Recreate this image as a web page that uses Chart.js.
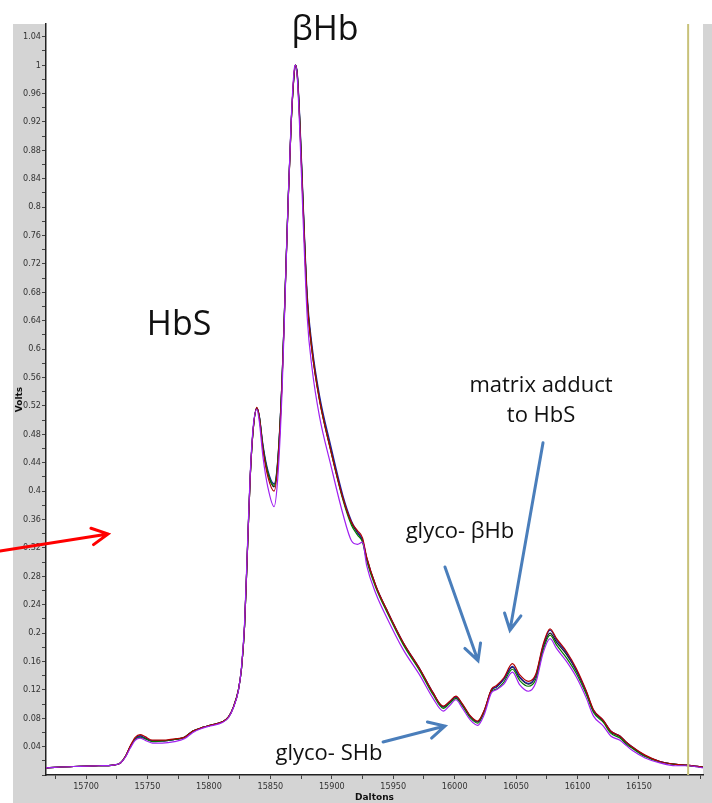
<!DOCTYPE html>
<html>
<head>
<meta charset="utf-8">
<script src="https://cdn.jsdelivr.net/npm/chart.js@4/dist/chart.umd.min.js"></script>
<style>
  html, body { margin: 0; padding: 0; background: #fff; }
  #wrap { width: 712px; height: 803px; position: relative; }
</style>
</head>
<body>
<div id="wrap"><canvas id="spectrum"></canvas></div>
<script>
// mass axis (Daltons) shared by every trace
const mass = [
  15667, 15690, 15710, 15722, 15728, 15732, 15736, 15740, 15744, 15748,
  15754, 15762, 15772, 15780, 15787, 15795, 15801, 15811, 15816, 15820,
  15824, 15826.5, 15829, 15831, 15833.5, 15836, 15839, 15841, 15844, 15848,
  15853, 15856, 15859.5, 15862, 15864.5, 15867, 15869.5, 15870.5, 15872, 15874,
  15876.5, 15880, 15884, 15890, 15899, 15909, 15916, 15921, 15925, 15928.4,
  15936, 15944.7, 15958, 15971.8, 15982.4, 15990.7, 15996, 16001, 16006, 16013,
  16018.7, 16024, 16030, 16034, 16040, 16047, 16053, 16060, 16066, 16072,
  16077.6, 16083, 16091, 16099, 16107, 16113, 16121, 16127, 16134.5, 16140,
  16145, 16155, 16167, 16180, 16189, 16202
];

// intensities (Volts), one list per run
const runBlack = [
  0.010, 0.012, 0.013, 0.014, 0.017, 0.026, 0.040, 0.051, 0.055, 0.052,
  0.048, 0.048, 0.050, 0.053, 0.062, 0.067, 0.070, 0.075, 0.082, 0.096,
  0.120, 0.150, 0.210, 0.300, 0.416, 0.486, 0.517, 0.505, 0.462, 0.425,
  0.406, 0.440, 0.556, 0.680, 0.810, 0.920, 0.990, 1.000, 0.985, 0.920,
  0.810, 0.670, 0.598, 0.530, 0.460, 0.390, 0.355, 0.341, 0.330, 0.305,
  0.265, 0.232, 0.186, 0.148, 0.115, 0.096, 0.103, 0.110, 0.100, 0.082,
  0.075, 0.090, 0.120, 0.124, 0.135, 0.152, 0.137, 0.128, 0.139, 0.180,
  0.200, 0.187, 0.170, 0.147, 0.117, 0.090, 0.076, 0.061, 0.054, 0.045,
  0.038, 0.027, 0.019, 0.015, 0.014, 0.011
];
const runRed = [
  0.010, 0.012, 0.013, 0.014, 0.017, 0.026, 0.041, 0.053, 0.057, 0.054,
  0.049, 0.049, 0.051, 0.053, 0.062, 0.067, 0.070, 0.075, 0.082, 0.096,
  0.120, 0.150, 0.210, 0.300, 0.415, 0.486, 0.518, 0.504, 0.458, 0.420,
  0.400, 0.436, 0.552, 0.678, 0.808, 0.920, 0.992, 1.000, 0.983, 0.916,
  0.806, 0.668, 0.596, 0.528, 0.458, 0.390, 0.356, 0.344, 0.334, 0.307,
  0.266, 0.233, 0.187, 0.149, 0.116, 0.097, 0.104, 0.111, 0.101, 0.083,
  0.076, 0.091, 0.121, 0.126, 0.137, 0.157, 0.141, 0.132, 0.142, 0.184,
  0.206, 0.192, 0.174, 0.150, 0.119, 0.092, 0.077, 0.062, 0.055, 0.046,
  0.039, 0.028, 0.019, 0.015, 0.014, 0.011
];
const runGreen = [
  0.010, 0.012, 0.013, 0.014, 0.017, 0.026, 0.040, 0.050, 0.053, 0.051,
  0.047, 0.048, 0.050, 0.053, 0.062, 0.067, 0.070, 0.075, 0.082, 0.096,
  0.120, 0.150, 0.210, 0.300, 0.416, 0.486, 0.516, 0.505, 0.462, 0.426,
  0.408, 0.442, 0.556, 0.680, 0.810, 0.920, 0.990, 1.000, 0.984, 0.918,
  0.808, 0.668, 0.596, 0.528, 0.458, 0.388, 0.352, 0.338, 0.328, 0.302,
  0.263, 0.230, 0.184, 0.146, 0.113, 0.094, 0.101, 0.108, 0.098, 0.080,
  0.073, 0.088, 0.118, 0.121, 0.131, 0.149, 0.133, 0.125, 0.135, 0.176,
  0.197, 0.183, 0.165, 0.143, 0.114, 0.088, 0.074, 0.059, 0.052, 0.043,
  0.037, 0.026, 0.018, 0.015, 0.013, 0.011
];
const runBlue = [
  0.010, 0.012, 0.013, 0.014, 0.017, 0.026, 0.040, 0.051, 0.055, 0.052,
  0.048, 0.048, 0.050, 0.053, 0.062, 0.067, 0.070, 0.075, 0.082, 0.096,
  0.120, 0.150, 0.210, 0.300, 0.416, 0.487, 0.517, 0.506, 0.465, 0.429,
  0.410, 0.444, 0.558, 0.682, 0.812, 0.922, 0.990, 1.000, 0.987, 0.924,
  0.815, 0.676, 0.604, 0.535, 0.465, 0.394, 0.358, 0.342, 0.331, 0.306,
  0.266, 0.233, 0.187, 0.149, 0.116, 0.096, 0.103, 0.110, 0.100, 0.082,
  0.075, 0.090, 0.120, 0.124, 0.135, 0.153, 0.138, 0.129, 0.140, 0.182,
  0.204, 0.190, 0.172, 0.148, 0.118, 0.091, 0.077, 0.062, 0.055, 0.046,
  0.039, 0.027, 0.019, 0.015, 0.014, 0.011
];
const runPurple = [
  0.010, 0.012, 0.013, 0.014, 0.017, 0.025, 0.038, 0.049, 0.052, 0.049,
  0.045, 0.045, 0.047, 0.051, 0.060, 0.066, 0.069, 0.074, 0.081, 0.095,
  0.119, 0.152, 0.214, 0.305, 0.420, 0.490, 0.515, 0.498, 0.448, 0.405,
  0.378, 0.418, 0.540, 0.675, 0.810, 0.925, 0.995, 1.000, 0.980, 0.905,
  0.790, 0.645, 0.572, 0.505, 0.438, 0.368, 0.330, 0.325, 0.328, 0.295,
  0.255, 0.222, 0.177, 0.140, 0.108, 0.090, 0.098, 0.106, 0.095, 0.077,
  0.070, 0.085, 0.116, 0.120, 0.128, 0.145, 0.127, 0.118, 0.130, 0.172,
  0.192, 0.178, 0.160, 0.138, 0.109, 0.083, 0.069, 0.055, 0.049, 0.041,
  0.034, 0.024, 0.017, 0.013, 0.013, 0.010
];

// axis ranges and the cursor marker
const xMin = 15667.4, xMax = 16202.1;
const yMin = 0, yMax = 1.058;
const xLastLabel = 16150;
const cursorMass = 16190;

// peak labels: [text, mass, volts, font size]
const peakLabels = [
  ["βHb", 15894.5, 1.036, 34],
  ["HbS", 15775.7, 0.620, 34],
  ["matrix adduct", 16070.3, 0.540, 22],
  ["to HbS", 16070.3, 0.497, 22],
  ["glyco- βHb", 16004.3, 0.334, 22],
  ["glyco- SHb", 15897.7, 0.021, 22]
];
// arrows: [fromMass, fromVolts, toMass, toVolts, colour]
const arrows = [
  [15992.1, 0.293, 16019.0, 0.161, "#4a7ebb"],
  [16071.9, 0.468, 16045.0, 0.204, "#4a7ebb"],
  [15941.7, 0.0465, 15992.1, 0.069, "#4a7ebb"],
  [15630.0, 0.3156, 15717.9, 0.3396, "#ff0000"]
];

const tickFont = { family: "'Liberation Sans Narrow', 'DejaVu Sans Condensed', sans-serif", size: 9 };
const labelFamily = "'Open Sans', 'Noto Sans', sans-serif";

function trace(values, color) {
  return {
    data: mass.map((m, i) => ({ x: m, y: values[i] })),
    borderColor: color,
    borderWidth: 1.2,
    pointRadius: 0,
    fill: false,
    cubicInterpolationMode: "monotone"
  };
}

// grey frame behind the axes, white plot area
const framePlugin = {
  id: "frame",
  beforeDraw(chart) {
    const { ctx, chartArea: a } = chart;
    ctx.save();
    ctx.fillStyle = "#fff";
    ctx.fillRect(0, 0, chart.width, chart.height);
    ctx.fillStyle = "#d4d4d4";
    ctx.fillRect(13, a.top, chart.width - 13, chart.height - a.top);
    ctx.fillStyle = "#fff";
    ctx.fillRect(a.left, a.top, a.right - a.left, a.bottom - a.top);
    ctx.restore();
  }
};

// cursor line, text labels and arrows
const notesPlugin = {
  id: "notes",
  afterDatasetsDraw(chart) {
    const { ctx, chartArea: a, scales: { x, y } } = chart;
    ctx.save();
    const cx = x.getPixelForValue(cursorMass);
    ctx.strokeStyle = "#c8c27a";
    ctx.lineWidth = 2;
    ctx.beginPath();
    ctx.moveTo(cx, a.top);
    ctx.lineTo(cx, a.bottom);
    ctx.stroke();

    ctx.fillStyle = "#111";
    ctx.textAlign = "center";
    ctx.textBaseline = "alphabetic";
    peakLabels.forEach(([txt, m, v, size]) => {
      ctx.font = size + "px " + labelFamily;
      ctx.fillText(txt, x.getPixelForValue(m), y.getPixelForValue(v));
    });

    arrows.forEach(([m0, v0, m1, v1, color]) => {
      const x0 = x.getPixelForValue(m0), y0 = y.getPixelForValue(v0);
      const x1 = x.getPixelForValue(m1), y1 = y.getPixelForValue(v1);
      const ang = Math.atan2(y1 - y0, x1 - x0);
      const head = 18, spread = 0.48;
      ctx.strokeStyle = color;
      ctx.lineWidth = 3;
      ctx.lineCap = "round";
      ctx.beginPath();
      ctx.moveTo(x0, y0);
      ctx.lineTo(x1, y1);
      ctx.moveTo(x1 - head * Math.cos(ang - spread), y1 - head * Math.sin(ang - spread));
      ctx.lineTo(x1, y1);
      ctx.lineTo(x1 - head * Math.cos(ang + spread), y1 - head * Math.sin(ang + spread));
      ctx.stroke();
    });
    ctx.restore();
  }
};

const canvas = document.getElementById("spectrum");
new Chart(canvas, {
  type: "line",
  data: {
    datasets: [
      trace(runPurple, "#a020f0"),
      trace(runRed, "#b00000"),
      trace(runGreen, "#007a00"),
      trace(runBlue, "#1a1aa0"),
      trace(runBlack, "#1a1a1a")
    ]
  },
  options: {
    responsive: true,
    maintainAspectRatio: false,
    animation: false,
    layout: { padding: { left: 0, right: 9, top: 24, bottom: 0 } },
    plugins: { legend: { display: false }, tooltip: { enabled: false } },
    scales: {
      x: {
        type: "linear",
        min: xMin,
        max: xMax,
        afterFit: (s) => { s.height = 28; },
        border: { color: "#222", width: 1.5 },
        grid: { drawOnChartArea: false, tickLength: 4, color: "#444" },
        ticks: {
          stepSize: 25,
          includeBounds: false,
          autoSkip: false,
          maxRotation: 0,
          padding: 2,
          color: "#333",
          font: tickFont,
          callback: (v) => {
            const m = Math.round(v);
            return m % 50 === 0 && m <= xLastLabel ? String(m) : "";
          }
        },
        title: {
          display: true,
          text: "Daltons",
          color: "#111",
          padding: { top: 0, bottom: 0 },
          font: { family: "'DejaVu Sans', sans-serif", size: 9, weight: "bold" }
        }
      },
      y: {
        min: yMin,
        max: yMax,
        afterFit: (s) => { s.width = 46; },
        border: { color: "#222", width: 1.5 },
        grid: { drawOnChartArea: false, tickLength: 4, color: "#444" },
        ticks: {
          stepSize: 0.02,
          includeBounds: false,
          autoSkip: false,
          padding: 1,
          color: "#333",
          font: tickFont,
          callback: (v) => {
            const k = Math.round(v * 100);
            return k > 0 && k % 4 === 0 ? String(k / 100) : "";
          }
        },
        title: {
          display: true,
          text: "Volts",
          color: "#111",
          padding: { top: 14, bottom: 0 },
          font: { family: "'DejaVu Sans', sans-serif", size: 9, weight: "bold" }
        }
      }
    }
  },
  plugins: [framePlugin, notesPlugin]
});
</script>
</body>
</html>
